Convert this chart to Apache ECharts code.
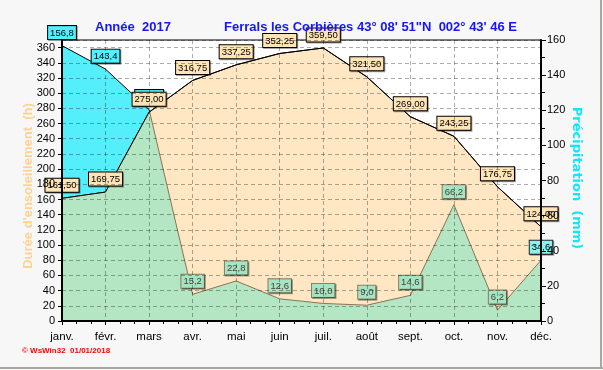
<!DOCTYPE html>
<html><head><meta charset="utf-8">
<script src="https://cdn.jsdelivr.net/npm/echarts@6/dist/echarts.min.js"></script>
<style>html,body{margin:0;padding:0;background:#f7f7f7}#c{width:603px;height:370px}</style>
</head><body><div id="c"></div>
<script>
// ---- data ----
const months = ['janv.','févr.','mars','avr.','mai','juin','juil.','août','sept.','oct.','nov.','déc.'];
const sunshine = [161.50,169.75,275.00,316.75,337.25,352.25,359.50,321.50,269.00,243.25,176.75,124.00];
const precip = [156.8,143.4,120.4,15.2,22.8,12.6,10.0,9.0,14.6,66.2,6.2,34.6];
const sunAxis = {min:0, max:370, interval:20};
const rainAxis = {min:0, max:160, interval:20};

const C = {
  cyan:'#55effc', beige:'#ffe7c4', green:'#b4e6c4', brown:'#8b7355',
  sunLbl:'#ffe4b5', cyanLbl:'#4ff0ff', greenLbl:'#a5e5c5'
};
const FONT = "'Liberation Sans', Arial, sans-serif";
const k = sunAxis.max / rainAxis.max;

const chart = echarts.init(document.getElementById('c'), null, {renderer:'canvas'});

function fmt(d){ return v => v.toFixed(d).replace('.', ','); }

const baseLabel = {show:true, position:'top', distance:6, fontFamily:FONT, fontSize:9.5,
  padding:[2,2,1,2], borderWidth:1, shadowColor:'rgba(0,0,0,0.35)', shadowOffsetX:1, shadowOffsetY:1, shadowBlur:0};

const precipData = precip.map((v,i) => {
  const above = v*k > sunshine[i];
  const last = i === precip.length-1;
  let lbl;
  if (above) lbl = {backgroundColor:C.cyanLbl, borderColor:'#000', color:'#000'};
  else if (last) lbl = {backgroundColor:'#8ef0ee', borderColor:'#222', color:'#000'};
  else lbl = {backgroundColor:C.greenLbl, borderColor:'#8b7b5b', color:'#4a4030'};
  return {value:v, label:lbl};
});

function renderOverlap(params, api){
  const n = months.length;
  const base = api.coord([0, 0])[1];
  const env = [];
  let prev = null;
  for (let i=0;i<n;i++){
    const s = api.coord([i, sunshine[i]]);
    const r = api.coord([i, precip[i]*k]);
    const d = r[1]-s[1];
    if (prev && prev.d*d < 0){
      const t = prev.d/(prev.d-d);
      env.push({p:[prev.s[0]+t*(s[0]-prev.s[0]), prev.s[1]+t*(s[1]-prev.s[1])], t:'x'});
    }
    env.push(d>=0 ? {p:r, t:'r'} : {p:s, t:'s'});
    prev = {s, r, d};
  }
  const pts = env.map(e=>e.p);
  const poly = pts.concat([[pts[pts.length-1][0], base],[pts[0][0], base]]);
  const children = [{type:'polygon', shape:{points:poly}, style:{fill:C.green}}];
  let cur = null;
  for (let j=1;j<env.length;j++){
    const a = env[j-1], b = env[j];
    const brown = a.t!=='s' && b.t!=='s' && (a.t==='r'||b.t==='r');
    if (brown){
      if (!cur){ cur=[a.p]; }
      cur.push(b.p);
    } else if (cur){ children.push({type:'polyline', shape:{points:cur}, style:{stroke:C.brown, lineWidth:1, fill:null}}); cur=null; }
  }
  if (cur) children.push({type:'polyline', shape:{points:cur}, style:{stroke:C.brown, lineWidth:1, fill:null}});
  return {type:'group', children};
}

const option = {
  animation:false,
  backgroundColor:'#f7f7f7',
  textStyle:{fontFamily:FONT},
  grid:{left:62, right:62, top:40, bottom:49, show:true, backgroundColor:'#ffffff', borderColor:'#000', borderWidth:1},
  title:[
    {text:'Année  2017', left:90, top:16, textStyle:{color:'#1414ff', fontSize:13, fontWeight:'bold', fontFamily:FONT}},
    {text:'Ferrals les Corbières 43° 08\' 51"N  002° 43\' 46 E', left:219, top:16, textStyle:{color:'#1414ff', fontSize:13, fontWeight:'bold', fontFamily:FONT}}
  ],
  xAxis:[
    {type:'category', data:months, boundaryGap:false, z:10,
     axisLine:{lineStyle:{color:'#000', width:2}},
     axisTick:{show:true, length:4, lineStyle:{color:'#000'}},
     axisLabel:{color:'#000', fontSize:11.5, margin:10, fontFamily:FONT},
     splitLine:{show:true, lineStyle:{type:[4,3], color:'rgba(0,0,0,0.32)'}}},
    {type:'value', min:0, max:11, interval:1, position:'bottom', z:10,
     axisLine:{show:false}, axisLabel:{show:false}, axisTick:{show:false}, splitLine:{show:false},
     minorTick:{show:true, splitNumber:3, length:3, lineStyle:{color:'#000'}}}
  ],
  yAxis:[
    {type:'value', min:sunAxis.min, max:sunAxis.max, interval:sunAxis.interval, position:'left', z:10,
     axisLine:{show:true, lineStyle:{color:'#000', width:2}},
     axisTick:{show:true, length:4, lineStyle:{color:'#000'}},
     axisLabel:{color:'#000', fontSize:11, margin:7, showMaxLabel:false, fontFamily:FONT},
     splitLine:{show:true, lineStyle:{type:[4,3], color:'rgba(0,0,0,0.32)'}}},
    {type:'value', min:rainAxis.min, max:rainAxis.max, interval:rainAxis.interval, position:'right', z:10,
     axisLine:{show:true, lineStyle:{color:'#000', width:2}},
     axisTick:{show:true, length:5, lineStyle:{color:'#000'}},
     minorTick:{show:true, splitNumber:2, length:4, lineStyle:{color:'#000'}},
     axisLabel:{color:'#000', fontSize:11, margin:6, fontFamily:FONT},
     splitLine:{show:false}}
  ],
  series:[
    {name:'precipArea', type:'line', yAxisIndex:1, data:precip, symbol:'none', z:1,
     lineStyle:{color:'#000', width:1}, areaStyle:{color:C.cyan, opacity:1}},
    {name:'sunArea', type:'line', yAxisIndex:0, data:sunshine, symbol:'none', z:2,
     lineStyle:{color:'#000', width:1}, areaStyle:{color:C.beige, opacity:1}},
    {name:'overlap', type:'custom', xAxisIndex:0, yAxisIndex:0, data:[0], z:3, silent:true, renderItem:renderOverlap},
    {name:'sunLine', type:'line', yAxisIndex:0, data:sunshine, z:4, symbol:'circle', symbolSize:1,
     itemStyle:{color:'rgba(0,0,0,0)'}, lineStyle:{color:'#000', width:1},
     label:Object.assign({}, baseLabel, {formatter:p=>fmt(2)(p.value), backgroundColor:C.sunLbl, borderColor:'#000', color:'#000'})},
    {name:'precipLbl', type:'line', yAxisIndex:1, data:precipData, z:3.5, symbol:'circle', symbolSize:1,
     itemStyle:{color:'rgba(0,0,0,0)'}, lineStyle:{opacity:0, width:0},
     label:Object.assign({}, baseLabel, {formatter:p=>fmt(1)(p.value)})}
  ],
  graphic:[
    {type:'text', x:28, y:186, rotation:Math.PI/2, style:{text:"Durée d'ensoleillement  (h)", fill:'#fdd393', font:"bold 13px "+FONT, align:'center', verticalAlign:'middle'}},
    {type:'text', x:576, y:178, rotation:-Math.PI/2, style:{text:'Précipitation  (mm)', fill:'#12e6f8', font:"bold 13px 'DejaVu Sans', sans-serif", align:'center', verticalAlign:'middle'}},
    {type:'text', x:22, y:351, style:{text:'© WsWin32  01/01/2018', fill:'#ff0000', font:"bold 8px "+FONT, verticalAlign:'middle'}},
    {type:'rect', shape:{x:0, y:367, width:603, height:2}, style:{fill:'#a8a8a0'}},
    {type:'rect', shape:{x:600, y:0, width:2, height:369}, style:{fill:'#a8a8a0'}}
  ]
};
chart.setOption(option);
</script></body></html>
